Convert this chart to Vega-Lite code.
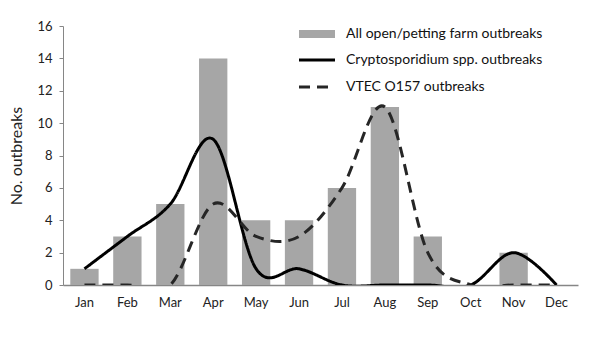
{
  "$schema": "https://vega.github.io/schema/vega-lite/v6.json",
  "width": 515,
  "height": 259,
  "autosize": {"type": "none"},
  "padding": {"left": 63, "top": 26, "right": 22, "bottom": 54},
  "config": {
    "view": {"stroke": null},
    "font": "Lato",
    "axis": {"domainColor": "#868686", "tickColor": "#868686", "labelColor": "#222222", "titleColor": "#222222", "grid": false, "labelFont": "Lato", "titleFont": "Lato"},
    "legend": {"labelFont": "Lato", "labelFontSize": 14, "labelColor": "#111111", "labelLimit": 400}
  },
  "data": {
    "values": [
      {"month": "Jan", "series": "All open/petting farm outbreaks", "value": 1},
      {"month": "Feb", "series": "All open/petting farm outbreaks", "value": 3},
      {"month": "Mar", "series": "All open/petting farm outbreaks", "value": 5},
      {"month": "Apr", "series": "All open/petting farm outbreaks", "value": 14},
      {"month": "May", "series": "All open/petting farm outbreaks", "value": 4},
      {"month": "Jun", "series": "All open/petting farm outbreaks", "value": 4},
      {"month": "Jul", "series": "All open/petting farm outbreaks", "value": 6},
      {"month": "Aug", "series": "All open/petting farm outbreaks", "value": 11},
      {"month": "Sep", "series": "All open/petting farm outbreaks", "value": 3},
      {"month": "Oct", "series": "All open/petting farm outbreaks", "value": 0},
      {"month": "Nov", "series": "All open/petting farm outbreaks", "value": 2},
      {"month": "Dec", "series": "All open/petting farm outbreaks", "value": 0},
      {"month": "Jan", "series": "Cryptosporidium spp. outbreaks", "value": 1},
      {"month": "Feb", "series": "Cryptosporidium spp. outbreaks", "value": 3},
      {"month": "Mar", "series": "Cryptosporidium spp. outbreaks", "value": 5},
      {"month": "Apr", "series": "Cryptosporidium spp. outbreaks", "value": 9},
      {"month": "May", "series": "Cryptosporidium spp. outbreaks", "value": 1},
      {"month": "Jun", "series": "Cryptosporidium spp. outbreaks", "value": 1},
      {"month": "Jul", "series": "Cryptosporidium spp. outbreaks", "value": 0},
      {"month": "Aug", "series": "Cryptosporidium spp. outbreaks", "value": 0},
      {"month": "Sep", "series": "Cryptosporidium spp. outbreaks", "value": 0},
      {"month": "Oct", "series": "Cryptosporidium spp. outbreaks", "value": 0},
      {"month": "Nov", "series": "Cryptosporidium spp. outbreaks", "value": 2},
      {"month": "Dec", "series": "Cryptosporidium spp. outbreaks", "value": 0},
      {"month": "Jan", "series": "VTEC O157 outbreaks", "value": 0},
      {"month": "Feb", "series": "VTEC O157 outbreaks", "value": 0},
      {"month": "Mar", "series": "VTEC O157 outbreaks", "value": 0},
      {"month": "Apr", "series": "VTEC O157 outbreaks", "value": 5},
      {"month": "May", "series": "VTEC O157 outbreaks", "value": 3},
      {"month": "Jun", "series": "VTEC O157 outbreaks", "value": 3},
      {"month": "Jul", "series": "VTEC O157 outbreaks", "value": 6},
      {"month": "Aug", "series": "VTEC O157 outbreaks", "value": 11},
      {"month": "Sep", "series": "VTEC O157 outbreaks", "value": 2},
      {"month": "Oct", "series": "VTEC O157 outbreaks", "value": 0},
      {"month": "Nov", "series": "VTEC O157 outbreaks", "value": 0},
      {"month": "Dec", "series": "VTEC O157 outbreaks", "value": 0}
    ]
  },
  "encoding": {
    "x": {
      "field": "month",
      "type": "ordinal",
      "sort": ["Jan", "Feb", "Mar", "Apr", "May", "Jun", "Jul", "Aug", "Sep", "Oct", "Nov", "Dec"],
      "scale": {"paddingInner": 0.34, "paddingOuter": 0.17},
      "axis": {"title": null, "labelAngle": 0, "ticks": false, "labelPadding": 11, "labelFontSize": 13, "domainWidth": 1.5}
    },
    "y": {
      "field": "value",
      "type": "quantitative",
      "scale": {"domain": [0, 16], "nice": false},
      "axis": {"title": "No. outbreaks", "titleFontSize": 16, "titleFontWeight": "normal", "titlePadding": 12, "values": [0, 2, 4, 6, 8, 10, 12, 14, 16], "labelOverlap": false, "tickSize": 4, "labelPadding": 7, "labelFontSize": 13}
    }
  },
  "layer": [
    {
      "transform": [{"filter": "datum.series === 'All open/petting farm outbreaks'"}],
      "mark": {"type": "bar", "color": "#a6a6a6"},
      "encoding": {
        "fill": {
          "field": "series",
          "type": "nominal",
          "scale": {"range": ["#a6a6a6"]},
          "legend": {"title": null, "orient": "none", "legendX": 247, "legendY": 1, "symbolType": "M-3.6,-0.8H3.6V0.8H-3.6Z", "symbolSize": 100, "symbolStrokeWidth": 0, "labelOffset": 22}
        }
      }
    },
    {
      "transform": [{"filter": "datum.series !== 'All open/petting farm outbreaks'"}],
      "mark": {"type": "line", "interpolate": "cardinal", "strokeWidth": 3, "clip": true},
      "encoding": {
        "stroke": {
          "field": "series",
          "type": "nominal",
          "scale": {"domain": ["Cryptosporidium spp. outbreaks", "VTEC O157 outbreaks"], "range": ["#000000", "#262626"]},
          "legend": {"title": null, "orient": "none", "legendX": 247, "legendY": 27, "symbolType": "M-3.6,0H3.6", "symbolSize": 100, "symbolStrokeWidth": 3, "labelOffset": 22, "rowPadding": 13}
        },
        "strokeDash": {
          "field": "series",
          "type": "nominal",
          "scale": {"domain": ["Cryptosporidium spp. outbreaks", "VTEC O157 outbreaks"], "range": [[1, 0], [11, 7]]},
          "legend": {"title": null, "orient": "none", "legendX": 247, "legendY": 27, "symbolType": "M-3.6,0H3.6", "symbolSize": 100, "symbolStrokeWidth": 3, "labelOffset": 22, "rowPadding": 13}
        }
      }
    }
  ]
}
